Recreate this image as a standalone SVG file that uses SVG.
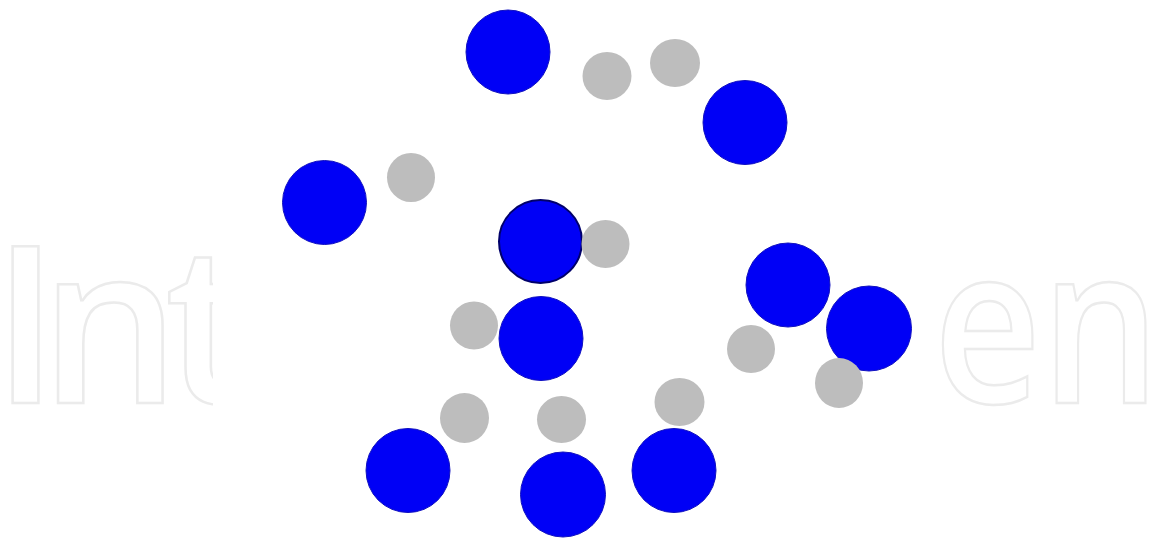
<svg xmlns="http://www.w3.org/2000/svg" width="1149" height="543" viewBox="0 0 1149 543">
  <style>
    .big { fill: #0000f6; stroke: #1010c0; stroke-width: 1; }
    .big.dark { stroke: #00006a; stroke-width: 2; }
    .small { fill: #bdbdbd; }
    .wm { fill: none; stroke: #ebebeb; stroke-width: 2.5; font-family: "Open Sans", Lato, sans-serif; font-weight: 600; font-size: 220px; }
  </style>
  <defs>
    <clipPath id="wmclip">
      <rect x="0" y="0" width="213" height="543"/>
    </clipPath>
  </defs>
  <rect x="0" y="0" width="1149" height="543" fill="#ffffff"/>
  <g id="watermark">
    <text class="wm" clip-path="url(#wmclip)" x="-8 40 165" y="403">Int</text>
    <g transform="translate(942 403) scale(0.85 1)"><text class="wm" x="-10" y="0">en</text></g>
  </g>
  <g id="nodes">
    <g id="b1"><circle class="big" cx="508" cy="52" r="42"/></g>
    <g id="b2"><circle class="big" cx="745" cy="122.5" r="42"/></g>
    <g id="b3"><circle class="big" cx="324.5" cy="202.5" r="42"/></g>
    <g id="b4"><circle class="big dark" cx="540.5" cy="241.5" r="41.5"/></g>
    <g id="b5"><circle class="big" cx="788" cy="285" r="42"/></g>
    <g id="b6"><circle class="big" cx="869" cy="328.5" r="42.5"/></g>
    <g id="b7"><circle class="big" cx="541" cy="338.5" r="42"/></g>
    <g id="b8"><circle class="big" cx="408" cy="470.5" r="42"/></g>
    <g id="b9"><circle class="big" cx="563" cy="494.5" r="42.5"/></g>
    <g id="b10"><circle class="big" cx="674" cy="470.5" r="42"/></g>
    <g id="g1"><ellipse class="small" cx="607" cy="76" rx="24.5" ry="24"/></g>
    <g id="g2"><ellipse class="small" cx="675" cy="63" rx="25" ry="24"/></g>
    <g id="g3"><ellipse class="small" cx="411" cy="177.5" rx="24" ry="24.5"/></g>
    <g id="g4"><ellipse class="small" cx="605.5" cy="244" rx="24" ry="24"/></g>
    <g id="g5"><ellipse class="small" cx="474" cy="325.5" rx="24" ry="24"/></g>
    <g id="g6"><ellipse class="small" cx="751" cy="349" rx="24" ry="24"/></g>
    <g id="g7"><ellipse class="small" cx="839" cy="383" rx="24" ry="25"/></g>
    <g id="g8"><ellipse class="small" cx="464.5" cy="418" rx="24.5" ry="25"/></g>
    <g id="g9"><ellipse class="small" cx="561.5" cy="419.5" rx="24.5" ry="23.5"/></g>
    <g id="g10"><ellipse class="small" cx="679.5" cy="402" rx="25" ry="24"/></g>
  </g>
  <g id="connectors"/>
</svg>
